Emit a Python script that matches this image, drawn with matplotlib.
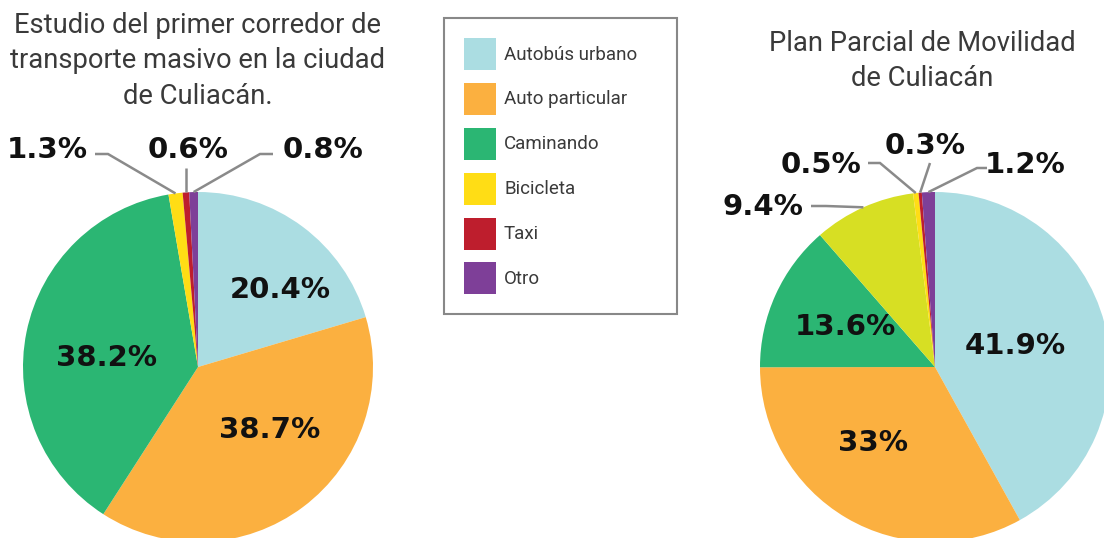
import matplotlib
matplotlib.use("Agg")
import numpy as np
import matplotlib.pyplot as plt
from matplotlib.patches import Patch

# ---------------- data ----------------
categories = ["Autobús urbano", "Auto particular", "Caminando", "Bicicleta", "Taxi", "Otro"]
left_title = "Estudio del primer corredor de\ntransporte masivo en la ciudad\nde Culiacán."
left_values = [20.4, 38.7, 38.2, 1.3, 0.6, 0.8]

right_title = "Plan Parcial de Movilidad\nde Culiacán"
right_values = [41.9, 33, 13.6, 9.4, 0.5, 0.3, 1.2]

# ---------------- styles ----------------
C_BUS, C_AUTO, C_WALK, C_BICI, C_TAXI, C_OTRO, C_LIME = (
    "#abdde2", "#fbb040", "#2bb673", "#ffdd15", "#be1e2d", "#7e3f98", "#d7df23")
left_colors = [C_BUS, C_AUTO, C_WALK, C_BICI, C_TAXI, C_OTRO]
right_colors = [C_BUS, C_AUTO, C_WALK, C_LIME, C_BICI, C_TAXI, C_OTRO]

W, H, DPI = 1104, 538, 100
R = 175
LEFT_C = (198, 367)
RIGHT_C = (935, 367)
TITLE_COLOR = "#3a3a3a"
TITLE_FONT = dict(family="Roboto", fontsize=19.7, color=TITLE_COLOR, linespacing=1.4)
LABEL_FONT = dict(family="DejaVu Sans", weight="bold", fontsize=21, color="#111111")
LINE_COLOR = "#8a8a8a"

fig = plt.figure(figsize=(W / DPI, H / DPI), dpi=DPI)
fig.patch.set_facecolor("white")


def pie_axes(c):
    cx, cy = c
    return fig.add_axes([(cx - R) / W, (H - cy - R) / H, 2 * R / W, 2 * R / H])


def to_data(c, px, py):
    return ((px - c[0]) / R, (c[1] - py) / R)


def fmt(v):
    return f"{v:g}%"


def draw_pie(c, values, colors, inner, outer):
    ax = pie_axes(c)
    wedges, _ = ax.pie(values, colors=colors, startangle=90, counterclock=False,
                       radius=1, wedgeprops=dict(linewidth=0))
    ax.set_xlim(-1, 1)
    ax.set_ylim(-1, 1)
    ax.axis("off")
    for idx, (px, py) in inner.items():
        x, y = to_data(c, px, py)
        ax.text(x, y, fmt(values[idx]), ha="center", va="center", **LABEL_FONT)
    for idx, (tpx, tpy, path) in outer.items():
        w = wedges[idx]
        mid = np.deg2rad((w.theta1 + w.theta2) / 2)
        ex, ey = np.cos(mid), np.sin(mid)
        tx, ty = to_data(c, tpx, tpy)
        ax.text(tx, ty, fmt(values[idx]), ha="center", va="center",
                clip_on=False, **LABEL_FONT)
        pts = [to_data(c, *p) for p in path]
        if not pts:
            pts = [(ex, (c[1] - 168) / R)]
        xs = [p[0] for p in pts] + [ex]
        ys = [p[1] for p in pts] + [ey]
        ax.plot(xs, ys, color=LINE_COLOR, lw=1.8, clip_on=False,
                solid_capstyle="butt", solid_joinstyle="miter")
    return ax, wedges


left_inner = {0: (280, 290), 1: (270, 430), 2: (106, 358)}
left_outer = {
    3: (47, 150, [(95, 154), (108, 154)]),
    4: (188, 150, []),
    5: (323, 150, [(273, 154), (260, 154)]),
}
axL, wedgesL = draw_pie(LEFT_C, left_values, left_colors, left_inner, left_outer)

right_inner = {0: (1015, 346), 1: (873, 443), 2: (845, 327)}
right_outer = {
    3: (763, 207, [(811, 206), (826, 206)]),
    4: (821, 165, [(868, 163), (880, 163)]),
    5: (925, 146, [(930, 163)]),
    6: (1025, 165, [(987, 168), (977, 168)]),
}
axR, wedgesR = draw_pie(RIGHT_C, right_values, right_colors, right_inner, right_outer)

# titles
fig.text(198 / W, 1 - 61 / H, left_title, ha="center", va="center", **TITLE_FONT)
fig.text(922 / W, 1 - 61 / H, right_title, ha="center", va="center", **TITLE_FONT)

# legend
LEG_FS = 13.5
handles = [Patch(facecolor=col, edgecolor="none") for col in left_colors]
leg = fig.legend(handles, categories, loc="upper left",
                 bbox_to_anchor=(444 / W, (H - 316) / H, 233 / W, 298 / H),
                 bbox_transform=fig.transFigure, mode="expand",
                 prop=dict(family="Roboto", weight="normal", size=LEG_FS),
                 handlelength=1.7, handleheight=2.25, labelspacing=0.69,
                 handletextpad=0.45, borderpad=1.05, borderaxespad=0,
                 frameon=True, fancybox=False, labelcolor="#3a3a3a")
leg.get_frame().set_edgecolor("#6a6a6a")
leg.get_frame().set_linewidth(1.5)

fig.savefig("out.png", dpi=DPI, facecolor="white")
